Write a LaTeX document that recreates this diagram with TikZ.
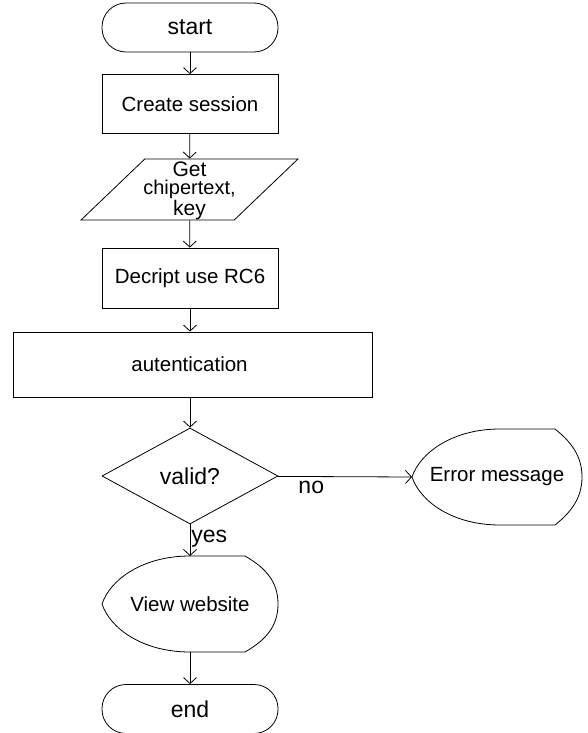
\documentclass[tikz,border=0pt]{standalone}
\usepackage{fontspec}
\setmainfont{Liberation Sans}
\usetikzlibrary{arrows.meta}
\usetikzlibrary{shapes.geometric}

\tikzset{
	bigtext/.style={font=\fontsize{23}{26}\selectfont},
	term/.style={draw, rounded corners=24pt, minimum width=176pt, minimum height=49pt, bigtext},
	proc/.style={draw, minimum width=176pt, minimum height=59pt},
	inout/.style={draw, trapezium, trapezium left angle=56, trapezium right angle=124, trapezium stretches=true, minimum width=217pt, minimum height=61pt, inner sep=0pt},
	decision/.style={draw, diamond, minimum width=176pt, minimum height=96pt, inner sep=0pt, bigtext},
	flow/.style={-{Straight Barb[length=6pt,width=13pt]}}
}

\begin{document}
\begin{tikzpicture}[x=1pt, y=-1pt, font=\fontsize{20.5}{24}\selectfont, line width=0.8pt]
					\useasboundingbox (0,0) rectangle (588,733);
					\node[term] (start) at (190,27.5) {start};
					\node[proc] (session) at (190,104) {Create session};
					\node[inout] (input) at (189.5,189.5) {\phantom{x}};
					\node[align=center, inner sep=0pt, font=\fontsize{20}{18.5}\selectfont] (inputtext) at ([yshift=-1pt]input.center) {{\fontsize{21}{18.5}\selectfont Get}\\chipertext,\\{\fontsize{21}{18.5}\selectfont key}};
					\node[proc, minimum height=60pt] (decrypt) at (190,278) {Decript use RC6};
					\node[proc, minimum width=359pt, minimum height=65pt] (auth) at (192.5,364.5) {\hspace*{-6pt}autentication};
					\node[decision] (valid) at (190,476) {valid?};
					\node[term] (stop) at (190,709) {end};
					% display shapes
					\foreach \name/\L/\C/\R/\cy/\txt in {view/102/245/278/604/View website, error/412/555/582/477/Error message} {
						\draw (\L,\cy) .. controls (\L+8,\cy-24) and (\L+40,\cy-48) .. (\L+88,\cy-48) -- (\C,\cy-48)
							.. controls (\R-12,\cy-36) and (\R,\cy-22) .. (\R,\cy)
							.. controls (\R,\cy+22) and (\R-12,\cy+36) .. (\C,\cy+48) -- (\L+88,\cy+48)
							.. controls (\L+40,\cy+48) and (\L+8,\cy+24) .. cycle;
						\node (\name) at ({(\L+\R)/2},\cy) {\txt};
						\coordinate (\name-n) at ({(\L+\R)/2},\cy-48);
						\coordinate (\name-s) at ({(\L+\R)/2},\cy+48);
						\coordinate (\name-w) at (\L,\cy);
					}
					\draw[flow] (start) -- (session);
					\draw[flow] (session) -- (input);
					\draw[flow] (input) -- (decrypt);
					\draw[flow] (decrypt) -- (decrypt |- auth.north);
					\draw[flow] (valid |- auth.south) -- (valid);
					\draw[flow] (valid) -- node[pos=0.25, below=3pt, inner sep=1pt, bigtext] (nolabel) {no} (error-w);
					\draw[flow] (valid) -- node[pos=0.46, right, inner sep=1pt, bigtext] (yeslabel) {yes} (view-n);
					\draw[flow] (view-s) -- (stop);
				\end{tikzpicture}
\end{document}
